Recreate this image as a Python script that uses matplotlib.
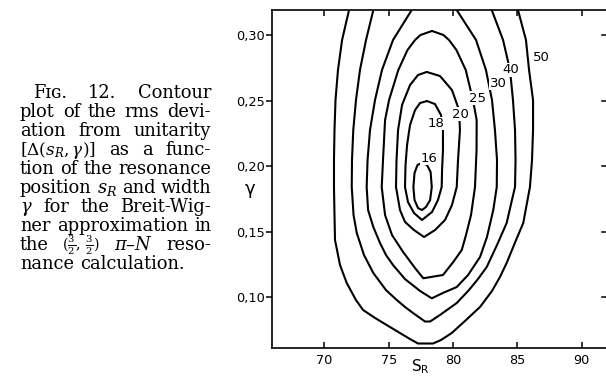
import matplotlib
matplotlib.use("Agg")
import matplotlib.pyplot as plt

plt.rcParams['mathtext.fontset'] = 'dejavuserif'

# ---------------- data ----------------
levels = [16, 18, 20, 25, 30, 40, 50]

# contour 16 (closed)
s_16 = [77.59, 77.98, 78.26, 78.35, 78.22, 77.90, 77.59, 77.28, 77.01, 76.92, 77.01, 77.24]
g_16 = [0.2023, 0.2008, 0.1954, 0.1840, 0.1740, 0.1687, 0.1664, 0.1679, 0.1740, 0.1840, 0.1947, 0.2008]

# contour 18 (closed)
s_18 = [77.98, 78.60, 79.07, 79.22, 79.22, 79.15, 79.12, 78.83, 78.37, 77.59,
        76.97, 76.50, 76.27, 76.31, 76.43, 76.66, 77.05, 77.44]
g_18 = [0.2496, 0.2473, 0.2389, 0.2275, 0.2122, 0.1969, 0.1840, 0.1740, 0.1649, 0.1588,
        0.1641, 0.1725, 0.1840, 0.2008, 0.2160, 0.2313, 0.2427, 0.2481]

# contour 20 (closed)
s_20 = [77.96, 78.99, 79.92, 80.47, 80.54, 80.39, 80.29, 79.92, 79.38, 78.60,
        77.75, 76.97, 76.27, 75.88, 75.57, 75.61, 75.73, 76.04, 76.66, 77.28]
g_20 = [0.2718, 0.2687, 0.2580, 0.2427, 0.2275, 0.2046, 0.1840, 0.1702, 0.1588, 0.1511,
        0.1458, 0.1511, 0.1573, 0.1664, 0.1840, 0.2046, 0.2275, 0.2466, 0.2618, 0.2695]

# contour 25 (closed)
s_25 = [78.37, 79.26, 79.69, 80.27, 80.99, 81.55, 81.84, 81.83, 81.71, 81.40, 81.01,
        80.68, 80.02, 79.22, 77.69, 77.05, 76.12, 75.26, 74.72, 74.46, 74.56, 74.72,
        75.03, 75.75, 76.46, 77.05, 77.47]
g_25 = [0.3031, 0.3000, 0.2962, 0.2885, 0.2733, 0.2504, 0.2351, 0.2122, 0.1840, 0.1626, 0.1473,
        0.1359, 0.1267, 0.1168, 0.1143, 0.1221, 0.1344, 0.1473, 0.1626, 0.1840, 0.2046, 0.2351,
        0.2504, 0.2733, 0.2885, 0.2962, 0.3000]

# contour 30 (open at the top)
s_30 = [76.79, 75.34, 74.48, 73.94, 73.55, 73.36, 73.29, 73.40, 73.81, 74.33, 74.79, 75.34,
        76.27, 77.44, 78.35, 79.22, 80.29, 81.17, 82.10, 82.64, 83.13, 83.40, 83.42, 83.26,
        83.03, 82.56, 81.79, 80.29]
g_30 = [0.3191, 0.2962, 0.2733, 0.2504, 0.2275, 0.2046, 0.1840, 0.1664, 0.1534, 0.1412, 0.1321, 0.1244,
        0.1137, 0.1046, 0.0990, 0.1031, 0.1076, 0.1168, 0.1305, 0.1458, 0.1664, 0.1840, 0.2046, 0.2275,
        0.2504, 0.2733, 0.2962, 0.3191]

# contour 40 (open at the top)
s_40 = [73.81, 73.24, 72.77, 72.46, 72.25, 72.15, 72.13, 72.27, 72.52, 73.08, 73.81, 74.79,
        75.63, 76.27, 76.89, 77.44, 77.82, 78.22, 78.99, 80.29, 81.24, 81.94, 82.62, 83.42,
        84.17, 84.58, 84.82, 84.86, 84.82, 84.66, 84.43, 83.89, 83.01]
g_40 = [0.3191, 0.2962, 0.2733, 0.2504, 0.2275, 0.2046, 0.1840, 0.1626, 0.1489, 0.1321, 0.1183, 0.1053,
        0.0977, 0.0924, 0.0878, 0.0840, 0.0813, 0.0813, 0.0863, 0.0954, 0.1053, 0.1137, 0.1229, 0.1397,
        0.1565, 0.1740, 0.1840, 0.2046, 0.2275, 0.2504, 0.2733, 0.2962, 0.3191]

# contour 50 (open at the top)
s_50 = [71.92, 71.38, 71.06, 70.87, 70.79, 70.75, 70.75, 70.79, 70.83, 71.22, 71.74, 72.46,
        73.01, 73.94, 74.85, 75.88, 76.66, 77.28, 78.45, 79.07, 79.90, 80.93, 82.10, 83.03,
        83.65, 84.17, 84.90, 85.46, 85.79, 85.98, 86.14, 86.22, 86.22, 85.91, 85.67, 85.05]
g_50 = [0.3191, 0.2962, 0.2733, 0.2504, 0.2275, 0.2046, 0.1840, 0.1626, 0.1435, 0.1244, 0.1107, 0.0977,
        0.0901, 0.0840, 0.0786, 0.0725, 0.0679, 0.0645, 0.0645, 0.0672, 0.0725, 0.0817, 0.0924, 0.1046,
        0.1153, 0.1260, 0.1435, 0.1565, 0.1740, 0.1840, 0.2046, 0.2275, 0.2504, 0.2733, 0.2962, 0.3191]

x_ticks = [70, 75, 80, 85, 90]
x_tick_labels = ['70', '75', '80', '85', '90']
y_ticks = [0.10, 0.15, 0.20, 0.25, 0.30]
y_tick_labels = ['0,10', '0,15', '0,20', '0,25', '0,30']

caption_lines = [
    "F\u026a\u0262. 12. Contour",
    "plot of the rms devi-",
    "ation from unitarity",
    r"$[\Delta(s_R,\gamma)]$ as a func-",
    "tion of the resonance",
    r"position $s_R$ and width",
    r"$\gamma$ for the Breit-Wig-",
    "ner approximation in",
    "the $(\\frac{3}{2},\\,\\frac{3}{2})$ $\\pi$\u2013$N$ reso-",
    "nance calculation.",
]

# ---------------- layout ----------------
W, H = 606, 379
fig = plt.figure(figsize=(W / 100, H / 100), dpi=100)
ax = fig.add_axes([271.7 / W, 1 - 347.7 / H, (606 - 271.7) / W, (347.7 - 10) / H])
ax.set_xlim(65.91, 91.89)
ax.set_ylim(0.0613, 0.3191)

closed = {16: True, 18: True, 20: True, 25: True, 30: False, 40: False, 50: False}
curves = {16: (s_16, g_16), 18: (s_18, g_18), 20: (s_20, g_20), 25: (s_25, g_25),
          30: (s_30, g_30), 40: (s_40, g_40), 50: (s_50, g_50)}
for lev in levels:
    xs, ys = curves[lev]
    if closed[lev]:
        xs = list(xs) + [xs[0]]
        ys = list(ys) + [ys[0]]
    ax.plot(xs, ys, color='black', lw=1.5, solid_joinstyle='round',
            solid_capstyle='round', clip_on=True, zorder=2)

label_pos = {16: (78.10, 0.2058), 18: (78.70, 0.2325), 20: (80.54, 0.2397),
             25: (81.94, 0.2519), 30: (83.50, 0.2630), 40: (84.51, 0.2733),
             50: (86.84, 0.2828)}
for lev in levels:
    x, y = label_pos[lev]
    ax.text(x, y, str(lev), fontsize=9.5, ha='center', va='center', zorder=3,
            family='DejaVu Sans',
            bbox=dict(facecolor='white', edgecolor='none', pad=0.2))

for side in ['left', 'bottom', 'top']:
    ax.spines[side].set_linewidth(1.2)
ax.spines['right'].set_visible(False)

ax.set_xticks(x_ticks)
ax.set_xticklabels(x_tick_labels)
ax.set_yticks(y_ticks)
ax.set_yticklabels(y_tick_labels)
ax.tick_params(axis='x', which='both', direction='in', length=4, width=1.1,
               top=True, labeltop=False, pad=4.5, labelsize=9.3)
ax.tick_params(axis='y', which='both', direction='out', length=4, width=1.1,
               right=False, pad=0.8, labelsize=9.3)
# right-hand inward ticks (no visible spine)
for yt in y_ticks:
    ax.plot([0.988, 1.0], [yt, yt], transform=ax.get_yaxis_transform(),
            color='black', lw=1.1, clip_on=False)

ax.set_xlabel(r"$\mathsf{S_R}$", fontsize=11)
ax.xaxis.set_label_coords((420 - 271.7) / (606 - 271.7), (347.7 - 357) / (347.7 - 10))
ax.set_ylabel("\u03b3", fontsize=13, rotation=0, ha='center', va='center', family='DejaVu Sans')
ax.yaxis.set_label_coords((250 - 271.7) / (606 - 271.7), (347.7 - 189) / (347.7 - 10))

# ---------------- caption (justified) ----------------
fig.canvas.draw()
renderer = fig.canvas.get_renderer()
cap_fs = 12.9
x_left, x_right = 20.0, 211.0
base0, pitch = 98.0, 19.0
min_sp = cap_fs * 100 / 72 * 0.22
for i, line in enumerate(caption_lines):
    y = base0 + i * pitch
    x0 = 33.0 if i == 0 else x_left
    words = line.split(' ')
    arts = []
    for w in words:
        if '\\frac' in w:
            fs = cap_fs * 0.8
        elif '\\Delta' in w:
            fs = cap_fs * 0.94
        else:
            fs = cap_fs
        arts.append(fig.text(0, 0, w, fontsize=fs, family=['DejaVu Serif', 'DejaVu Sans'],
                             va='baseline', ha='left'))
    widths = [a.get_window_extent(renderer).width for a in arts]
    if i == len(caption_lines) - 1:
        sp = cap_fs * 100 / 72 * 0.32
    else:
        sp = (x_right - x0 - sum(widths)) / (len(words) - 1)
        if sp < min_sp:
            scale = (x_right - x0 - min_sp * (len(words) - 1)) / sum(widths)
            for a in arts:
                a.set_fontsize(a.get_fontsize() * scale)
            widths = [a.get_window_extent(renderer).width for a in arts]
            sp = (x_right - x0 - sum(widths)) / (len(words) - 1)
    x = x0
    for a, w in zip(arts, widths):
        a.set_position((x / W, 1 - y / H))
        x += w + sp

fig.savefig("out.png", dpi=100)
